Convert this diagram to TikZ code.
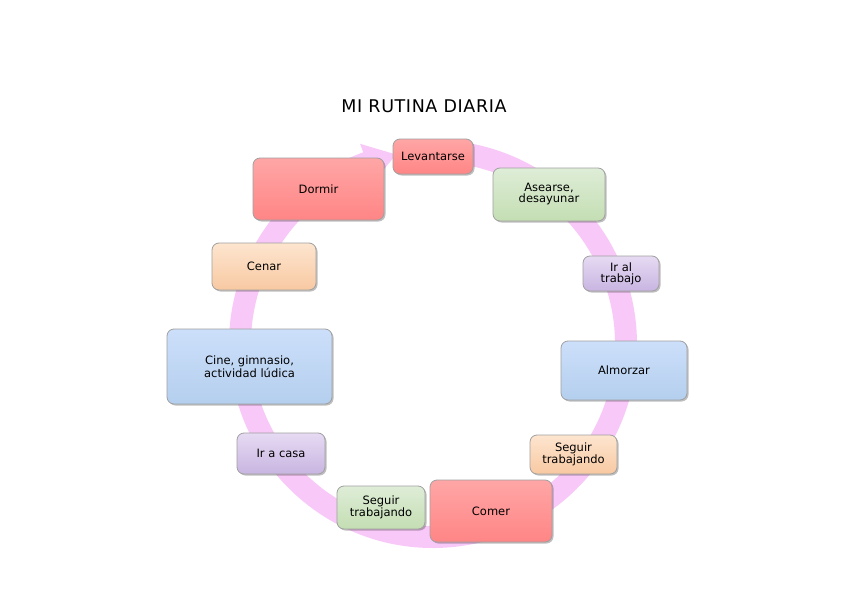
\documentclass[tikz,border=0pt]{standalone}
\usepackage{fontspec}
\setmainfont{DejaVu Sans}
\newfontfamily\titlefont[LetterSpace=3.5]{DejaVu Sans}
\usetikzlibrary{shadows}
\definecolor{ringc}{HTML}{F8C8F8}
\definecolor{redT}{HTML}{FFA6A6}\definecolor{redB}{HTML}{FF8585}
\definecolor{grnT}{HTML}{DEEDD7}\definecolor{grnB}{HTML}{C4DEB3}
\definecolor{purT}{HTML}{E6DAF3}\definecolor{purB}{HTML}{C9B5E1}
\definecolor{bluT}{HTML}{CCDFFA}\definecolor{bluB}{HTML}{B4CFEE}
\definecolor{orgT}{HTML}{FDE5CF}\definecolor{orgB}{HTML}{F8C9A2}
\definecolor{bord}{HTML}{A0A0A0}
\tikzset{
  box/.style={draw=bord, line width=0.8pt, rounded corners=7pt, align=center,
    inner sep=2pt, font=\fontsize{11.5}{11}\selectfont,
    drop shadow={shadow xshift=1.5pt, shadow yshift=-1.5pt, opacity=0.25, fill=black}},
  redbox/.style={box, top color=redT, bottom color=redB},
  grnbox/.style={box, top color=grnT, bottom color=grnB},
  purbox/.style={box, top color=purT, bottom color=purB},
  blubox/.style={box, top color=bluT, bottom color=bluB},
  orgbox/.style={box, top color=orgT, bottom color=orgB},
}
\begin{document}
\begin{tikzpicture}[x=1pt,y=-1pt]
\useasboundingbox[fill=white] (0,0) rectangle (848,599);
% ring with arrow (center (433,344) in pixel coords, y down)
\begin{scope}[shift={(433,344)}, yscale=-1]
\def\rr{193}\def\ro{204}\def\ri{182}
\fill[ringc] (95:\ro) arc[start angle=95, end angle=-250, radius=\ro]
  -- (-250:\ro+9) -- (-259:\rr) -- (-250:\ri-9) -- (-250:\ri)
  arc[start angle=-250, end angle=95, radius=\ri] -- cycle;
\end{scope}
\node[font=\titlefont\fontsize{17.5}{17}\selectfont] (title) at (424,106) {MI RUTINA DIARIA};
\node[redbox, minimum width=80pt, minimum height=35pt] (lev) at (433,156.5) {Levantarse};
\node[grnbox, minimum width=112pt, minimum height=53pt] (ase) at (549,194.5) {Asearse,\\desayunar};
\node[purbox, minimum width=76pt, minimum height=35pt] (irt) at (621,273.5) {Ir al\\trabajo};
\node[blubox, minimum width=126pt, minimum height=59pt] (alm) at (624,370.5) {Almorzar};
\node[orgbox, minimum width=87pt, minimum height=39pt] (seg1) at (573.5,454.5) {Seguir\\trabajando};
\node[grnbox, minimum width=88pt, minimum height=43pt] (seg2) at (381,507.5) {Seguir\\trabajando};
\node[redbox, minimum width=122pt, minimum height=62pt] (com) at (491,511) {Comer};
\node[purbox, minimum width=88pt, minimum height=41pt] (irc) at (281,453.5) {Ir a casa};
\node[blubox, minimum width=165pt, minimum height=75pt] (cin) at (249.5,366.5) {Cine, gimnasio,\\actividad lúdica};
\node[orgbox, minimum width=104pt, minimum height=47pt] (cen) at (264,266.5) {Cenar};
\node[redbox, minimum width=131pt, minimum height=62pt] (dor) at (318.5,189) {Dormir};
\end{tikzpicture}
\end{document}
